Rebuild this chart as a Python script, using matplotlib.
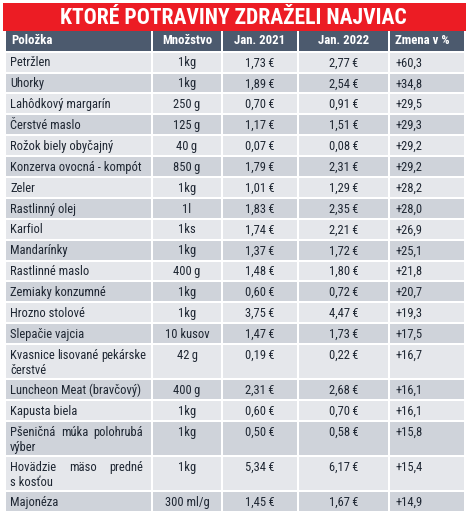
import matplotlib
matplotlib.use("Agg")
import matplotlib.pyplot as plt
from matplotlib.patches import Rectangle

plt.rcParams['font.family'] = ['Roboto Condensed', 'DejaVu Sans']
plt.rcParams['font.stretch'] = 'condensed'

title = "KTORÉ POTRAVINY ZDRAŽELI NAJVIAC"
headers = ["Položka", "Množstvo", "Jan. 2021", "Jan. 2022", "Zmena v %"]

items = ["Petržlen", "Uhorky", "Lahôdkový margarín", "Čerstvé maslo",
         "Rožok biely obyčajný", "Konzerva ovocná - kompót", "Zeler",
         "Rastlinný olej", "Karfiol", "Mandarínky", "Rastlinné maslo",
         "Zemiaky konzumné", "Hrozno stolové", "Slepačie vajcia",
         "Kvasnice lisované pekárske\nčerstvé", "Luncheon Meat (bravčový)",
         "Kapusta biela", "Pšeničná múka polohrubá\nvýber",
         "Hovädzie mäso predné\ns kosťou", "Majonéza"]
qty = ["1kg", "1kg", "250\u2009g", "125\u2009g", "40\u2009g", "850\u2009g", "1kg",
       "1l", "1ks", "1kg", "400\u2009g", "1kg", "1kg", "10 kusov", "42\u2009g",
       "400\u2009g", "1kg", "1kg", "1kg", "300 ml/g"]
p2021 = [1.73, 1.89, 0.70, 1.17, 0.07, 1.79, 1.01, 1.83, 1.74, 1.37, 1.48,
         0.60, 3.75, 1.47, 0.19, 2.31, 0.60, 0.50, 5.34, 1.45]
p2022 = [2.77, 2.54, 0.91, 1.51, 0.08, 2.31, 1.29, 2.35, 2.21, 1.72, 1.80,
         0.72, 4.47, 1.73, 0.22, 2.68, 0.70, 0.58, 6.17, 1.67]
change = [60.3, 34.8, 29.5, 29.3, 29.2, 29.2, 28.2, 28.0, 26.9, 25.1, 21.8,
          20.7, 19.3, 17.5, 16.7, 16.1, 16.1, 15.8, 15.4, 14.9]

# layout (pixel units)
W, H = 468, 521
col_edges = [5, 152, 222, 298, 389, 465]
header_top, header_bot = 31, 50.7
body_top = 51.7
single_h, double_h = 20.88, 35.0
line_gap = 15.5
just_right = 143  # right edge for justified first lines
min_space = 2.6
gap = 1.0

red = "#ec1c24"
header_col = "#4c5a6e"
light = "#e5e7eb"
dark = "#cfd3da"
txt_col = "#1e2632"
fs = 9.0
fs_head = 9.2


def euro(v):
    return f"{v:.2f}\u2009€".replace(".", ",")


def pct(v):
    return f"+{v:.1f}".replace(".", ",")


fig = plt.figure(figsize=(W / 100, H / 100), dpi=100)
ax = fig.add_axes([0, 0, 1, 1])
ax.set_xlim(0, W)
ax.set_ylim(H, 0)
ax.axis("off")
renderer = fig.canvas.get_renderer()


def justified(x0, x1, yy, line):
    # draw the words of one line spread from x0 to x1
    words = line.split()
    objs = [ax.text(x0, yy, w, color=txt_col, fontsize=fs, ha="left",
                    va="center") for w in words]
    widths = [o.get_window_extent(renderer).width for o in objs]
    space = (x1 - x0 - sum(widths)) / max(len(words) - 1, 1)
    space = max(space, min_space)
    xx = x0
    for o, wd in zip(objs, widths):
        o.set_x(xx)
        xx += wd + space


# title band
ax.add_patch(Rectangle((3, 3), 463, 28, color=red, lw=0))
ax.text(233, 17.5, title, color="white", fontsize=15.6, fontweight="bold",
        ha="center", va="center")

# header row
for i, h in enumerate(headers):
    x0, x1 = col_edges[i], col_edges[i + 1]
    ax.add_patch(Rectangle((x0 + gap, header_top), x1 - x0 - 2 * gap,
                           header_bot - header_top, color=header_col, lw=0))
    hy = (header_top + header_bot) / 2
    if i in (0, 4):
        ax.text(x0 + 6, hy, h, color="white", fontsize=fs_head,
                fontweight="bold", ha="left", va="center")
    else:
        ax.text((x0 + x1) / 2, hy, h, color="white", fontsize=fs_head,
                fontweight="bold", ha="center", va="center")

# body rows
y = body_top
for r in range(len(items)):
    lines = items[r].split("\n")
    rh = single_h if len(lines) == 1 else double_h
    fc = light if r % 2 == 0 else dark
    for c in range(5):
        x0, x1 = col_edges[c], col_edges[c + 1]
        ax.add_patch(Rectangle((x0 + gap, y + gap), x1 - x0 - 2 * gap,
                               rh - 2 * gap, color=fc, lw=0))
    ty = y + single_h / 2 + 0.8
    cells = [qty[r], euro(p2021[r]), euro(p2022[r])]
    if len(lines) == 1:
        ax.text(col_edges[0] + 5, ty, items[r], color=txt_col, fontsize=fs,
                ha="left", va="center")
    else:
        justified(col_edges[0] + 5, just_right, ty, lines[0])
        for k, ln in enumerate(lines[1:], start=1):
            ax.text(col_edges[0] + 5, ty + k * line_gap, ln, color=txt_col,
                    fontsize=fs, ha="left", va="center")
    for c, s in enumerate(cells, start=1):
        ax.text((col_edges[c] + col_edges[c + 1]) / 2, ty, s, color=txt_col,
                fontsize=fs, ha="center", va="center")
    ax.text(col_edges[4] + 7, ty, pct(change[r]), color=txt_col, fontsize=fs,
            ha="left", va="center")
    y += rh

fig.savefig("out.png", dpi=100, facecolor="white")
